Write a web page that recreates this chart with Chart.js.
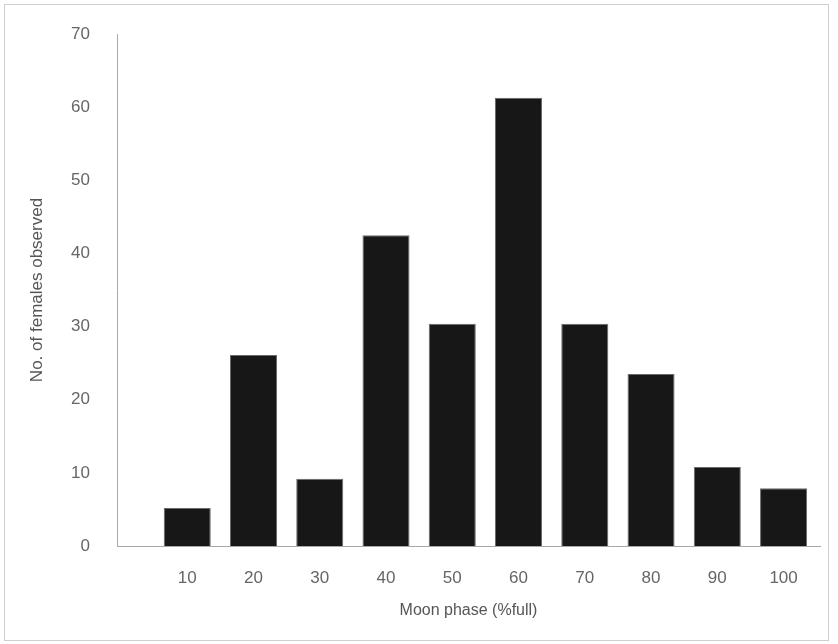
<!DOCTYPE html>
<html>
<head>
<meta charset="utf-8">
<script src="https://cdn.jsdelivr.net/npm/chart.js@4"></script>
<style>
  html, body { margin: 0; padding: 0; background: #fff; }
  #wrap { width: 838px; height: 644px; position: relative; }
</style>
</head>
<body>
<div id="wrap"><canvas id="myChart" width="838" height="644"></canvas></div>
<script>
const phases = [10, 20, 30, 40, 50, 60, 70, 80, 90, 100];
const females = [5.2, 26.1, 9.2, 42.5, 30.4, 61.3, 30.4, 23.5, 10.8, 7.9];
const yTicks = [0, 10, 20, 30, 40, 50, 60, 70];

const frame = {
    id: "frame",
    beforeDraw(chart) {
        const ctx = chart.ctx;
        ctx.save();
        ctx.strokeStyle = "#cfcfcf";
        ctx.lineWidth = 1;
        ctx.strokeRect(4.5, 4.5, 824, 636);
        ctx.restore();
    }
};

new Chart("myChart", {
    type: "bar",
    data: {
        datasets: [{
            data: phases.map((p, i) => ({ x: p, y: females[i] })),
            backgroundColor: "#171717",
            borderColor: "#6a6a6a",
            borderWidth: 1,
            barPercentage: 0.71,
            categoryPercentage: 1
        }]
    },
    plugins: [frame],
    options: {
        responsive: false,
        animation: false,
        layout: { padding: { top: 34, right: 18, left: 0, bottom: 24 } },
        plugins: {
            legend: { display: false },
            tooltip: { enabled: false }
        },
        scales: {
            x: {
                type: "linear",
                offset: false,
                min: -0.6,
                max: 105.5,
                afterBuildTicks: s => { s.ticks = phases.map(v => ({ value: v })); },
                afterFit: s => { s.height = 74; },
                grid: { display: false, drawTicks: false },
                border: { display: true, color: "#a8a8a8", width: 1 },
                ticks: {
                    padding: 22,
                    color: "#666",
                    font: { family: "Liberation Sans", size: 17 },
                    maxRotation: 0,
                    autoSkip: false
                },
                title: {
                    display: true,
                    text: "Moon phase (%full)",
                    color: "#555",
                    font: { family: "Liberation Sans", size: 16 },
                    padding: { top: 10, bottom: 0 }
                }
            },
            y: {
                min: 0,
                max: 70,
                afterBuildTicks: s => { s.ticks = yTicks.map(v => ({ value: v })); },
                afterFit: s => { s.width = 117; s.paddingTop = 0; s.paddingBottom = 0; },
                grid: { display: false, drawTicks: false },
                border: { display: true, color: "#a8a8a8", width: 1 },
                ticks: {
                    padding: 27,
                    color: "#666",
                    font: { family: "Liberation Sans", size: 17 }
                },
                title: {
                    display: true,
                    text: "No. of females observed",
                    color: "#555",
                    font: { family: "Liberation Sans", size: 17 },
                    padding: { top: 27, bottom: 0 }
                }
            }
        }
    }
});
</script>
</body>
</html>
